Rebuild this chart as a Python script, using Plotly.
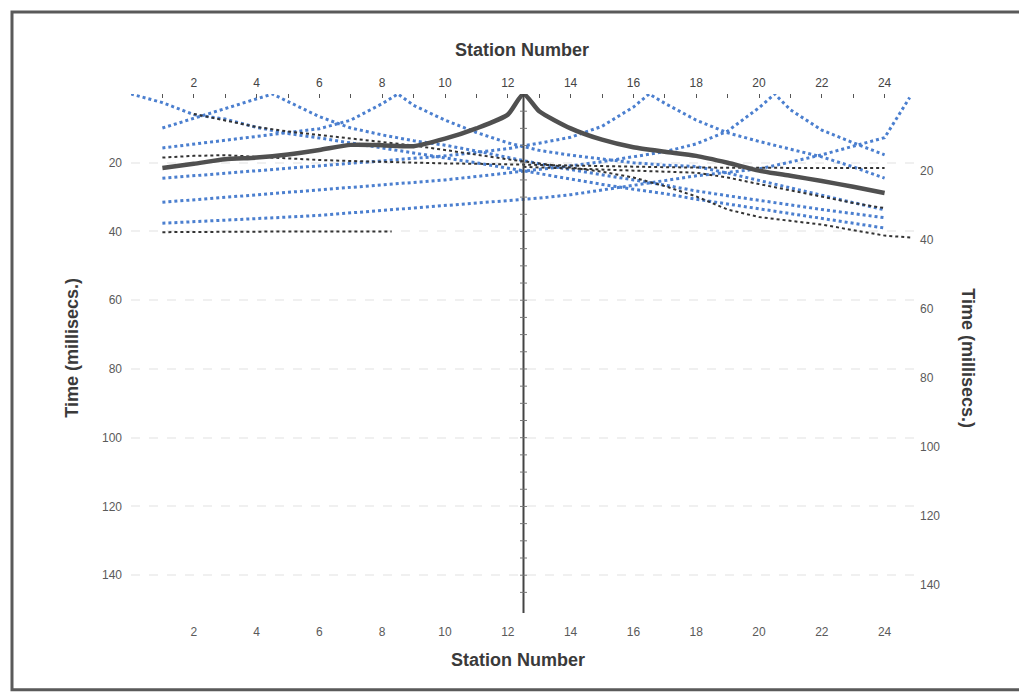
import plotly.graph_objects as go

# ---------------- data ----------------
stations = list(range(1, 25))
station_ticks = list(range(2, 25, 2))
time_ticks = [20, 40, 60, 80, 100, 120, 140]

shot_pos = {"S0": 0.0, "S4.5": 4.5, "S8.5": 8.5, "S12.5": 12.5,
            "S16.5": 16.5, "S20.5": 20.5, "S24.5": 24.8}
shot_t0 = {"S0": 0.0, "S4.5": 0.0, "S8.5": 0.0, "S12.5": 0.0,
           "S16.5": 0.0, "S20.5": 0.0, "S24.5": 1.0}

t_S0 = [2.5, 6.0, 7.3, 9.7, 11.5, 12.8, 14.3, 15.8, 17.2, 18.6, 20.0, 21.6,
        23.3, 24.8, 26.3, 27.7, 29.0, 30.6, 32.0, 33.4, 34.8, 36.2, 37.6, 39.0]
t_S4 = [9.9, 7.1, 4.3, 1.5, 2.2, 6.6, 9.9, 11.9, 13.6, 14.9, 16.6, 18.5,
        20.3, 22.0, 23.6, 25.0, 26.5, 28.2, 29.6, 31.0, 32.3, 33.6, 34.8, 36.0]
t_S8 = [15.7, 14.6, 13.5, 12.5, 11.4, 10.1, 7.6, 2.8, 3.3, 7.6, 11.2, 14.2,
        16.4, 17.8, 19.0, 20.0, 20.7, 21.1, 23.0, 25.2, 27.4, 29.6, 31.6, 33.7]
t_S12 = [21.5, 20.3, 19.0, 18.5, 17.6, 16.3, 14.8, 14.9, 15.2, 13.0, 10.0, 6.0,
         5.0, 10.0, 13.3, 15.5, 16.8, 18.0, 20.0, 22.3, 23.8, 25.3, 27.0, 28.8]
t_S16 = [24.5, 23.8, 23.1, 22.4, 21.7, 21.0, 20.3, 19.6, 18.9, 18.0, 17.0, 15.9,
         14.3, 12.6, 9.4, 3.8, 2.7, 7.6, 11.3, 13.8, 16.0, 18.3, 21.2, 24.5]
t_S20 = [31.5, 30.8, 30.1, 29.4, 28.7, 28.0, 27.3, 26.5, 25.8, 25.0, 24.0, 23.0,
         22.0, 20.9, 19.7, 18.3, 16.8, 14.5, 10.8, 4.0, 4.6, 10.5, 14.2, 17.7]
t_S24 = [37.6, 37.2, 36.8, 36.3, 35.8, 35.3, 34.6, 33.9, 33.2, 32.5, 31.7, 31.0,
         30.3, 29.3, 28.0, 26.6, 25.2, 23.8, 22.9, 21.8, 19.8, 17.7, 15.2, 12.7]

blue_shots = {"S0": t_S0, "S4.5": t_S4, "S8.5": t_S8, "S16.5": t_S16,
              "S20.5": t_S20, "S24.5": t_S24}

# thin black dotted curves
b1_x = stations
b1_t = [18.5, 18.0, 17.8, 18.3, 18.8, 19.2, 19.5, 19.8, 20.0, 20.2, 20.3, 20.5,
        20.6, 20.8, 21.0, 21.2, 21.3, 21.4, 21.5, 21.5, 21.5, 21.5, 21.5, 21.5]
b2_x = [2, 3, 4, 5, 6, 7, 8, 9, 10, 11, 12, 13, 14, 15, 16, 17, 18, 19, 20,
        21, 22, 23, 24, 24.9]
b2_t = [5.8, 7.6, 9.6, 10.9, 11.9, 12.8, 13.8, 15.0, 16.3, 17.7, 19.0, 20.2,
        21.3, 22.6, 24.3, 26.8, 29.8, 33.6, 35.8, 37.0, 38.0, 39.6, 41.2, 41.8]
b3_x = [1, 2, 3, 4, 5, 6, 7, 8.3]
b3_t = [40.2, 40.1, 40.0, 40.0, 40.0, 40.0, 40.0, 40.0]
b4_x = [12.5, 14, 15, 16, 17, 18, 19, 20, 21, 22, 23, 24]
b4_t = [21.2, 21.6, 21.9, 22.3, 22.6, 22.9, 24.3, 26.2, 28.0, 30.0, 31.7, 33.2]

center_x = [12.5, 12.5]
center_t = [0, 151]
center_ticks_t = list(range(5, 150, 5))

# ---------------- figure ----------------
BLUE = "#4b7fcf"
DARK = "#505050"
fig = go.Figure()


def shot_xy(name, times):
    pts = list(zip(stations, times)) + [(shot_pos[name], shot_t0[name])]
    pts.sort()
    return [p[0] for p in pts], [p[1] for p in pts]


for name, times in blue_shots.items():
    xs, ts = shot_xy(name, times)
    fig.add_trace(go.Scatter(x=xs, y=ts, mode="lines", name=name,
                             line=dict(color=BLUE, width=3, dash="dot"),
                             showlegend=False))

for bx, bt in [(b1_x, b1_t), (b2_x, b2_t), (b3_x, b3_t), (b4_x, b4_t)]:
    fig.add_trace(go.Scatter(x=bx, y=bt, mode="lines",
                             line=dict(color="#333333", width=2, dash="dot"),
                             showlegend=False))

xs, ts = shot_xy("S12.5", t_S12)
fig.add_trace(go.Scatter(x=xs, y=ts, mode="lines",
                         line=dict(color=DARK, width=4.5, shape="spline",
                                   smoothing=0.6),
                         showlegend=False))

fig.add_trace(go.Scatter(x=center_x, y=center_t, mode="lines",
                         line=dict(color="#444444", width=2), showlegend=False))
fig.add_trace(go.Scatter(x=[12.5] * len(center_ticks_t), y=center_ticks_t,
                         mode="markers",
                         marker=dict(symbol="line-ew", size=5,
                                     line=dict(color="#777777", width=1)),
                         showlegend=False))

# dummy trace to bind the top / right axes
fig.add_trace(go.Scatter(x=[0], y=[0], xaxis="x2", yaxis="y2", mode="markers",
                         marker=dict(opacity=0), showlegend=False,
                         hoverinfo="skip"))

FONT = "Liberation Sans Narrow, Arial Narrow, Liberation Sans, Arial, sans-serif"
tickfont = dict(family=FONT, size=12, color="#5a5a5a")

# the page body adds an 8px offset; figure is sized so the plot lands where
# the reference has it
fig.update_layout(
    width=1019, height=687,
    margin=dict(l=123, r=111, t=86, b=82),
    paper_bgcolor="white", plot_bgcolor="white",
    font=dict(family=FONT),
    xaxis=dict(range=[0, 25], tickvals=station_ticks, showgrid=False,
               zeroline=False, showline=False, ticks="",
               tickfont=tickfont, ticklabelstandoff=10),
    xaxis2=dict(range=[0, 25], overlaying="x", side="top", anchor="y2",
                tickvals=station_ticks, showgrid=False, zeroline=False,
                showline=False, ticks="inside", ticklen=4, tickcolor="#555",
                minor=dict(dtick=1, tick0=0, ticks="inside", ticklen=4,
                           tickcolor="#555"),
                tickfont=dict(family=FONT, size=12, color="#444"),
                ticklabelstandoff=4),
    yaxis=dict(range=[151, 0], tickvals=time_ticks, zeroline=False,
               showline=False, ticks="", showgrid=True, gridcolor="#f0f0f0",
               gridwidth=2, griddash="dash", tickfont=tickfont,
               ticklabelstandoff=8),
    yaxis2=dict(range=[148.1, -2.32], overlaying="y", side="right",
                anchor="x2", tickvals=time_ticks, zeroline=False,
                showline=False, ticks="", showgrid=False, tickfont=tickfont,
                ticklabelstandoff=3),
)

title_font = dict(family=FONT, size=18, color="#3a3a3a")
fig.add_annotation(text="<b>Station Number</b>", xref="paper", yref="paper",
                   x=0.498, y=1.085, showarrow=False, font=title_font,
                   xanchor="center", yanchor="middle")
fig.add_annotation(text="<b>Station Number</b>", xref="paper", yref="paper",
                   x=0.493, y=-0.0906, showarrow=False, font=title_font,
                   xanchor="center", yanchor="middle")
fig.add_annotation(text="<b>Time (millisecs.)</b>", xref="paper", yref="paper",
                   x=-0.0752, y=0.511, showarrow=False, font=title_font,
                   textangle=-90, xanchor="center", yanchor="middle")
fig.add_annotation(text="<b>Time (millisecs.)</b>", xref="paper", yref="paper",
                   x=1.066, y=0.491, showarrow=False, font=title_font,
                   textangle=90, xanchor="center", yanchor="middle")

# scanned page frame
fig.add_shape(type="rect", xref="paper", yref="paper",
              x0=-0.1516, x1=1.1338, y0=-0.148, y1=1.158,
              line=dict(color="#5a5a5a", width=3), fillcolor="rgba(0,0,0,0)",
              layer="above")

fig.write_html("out.html")
